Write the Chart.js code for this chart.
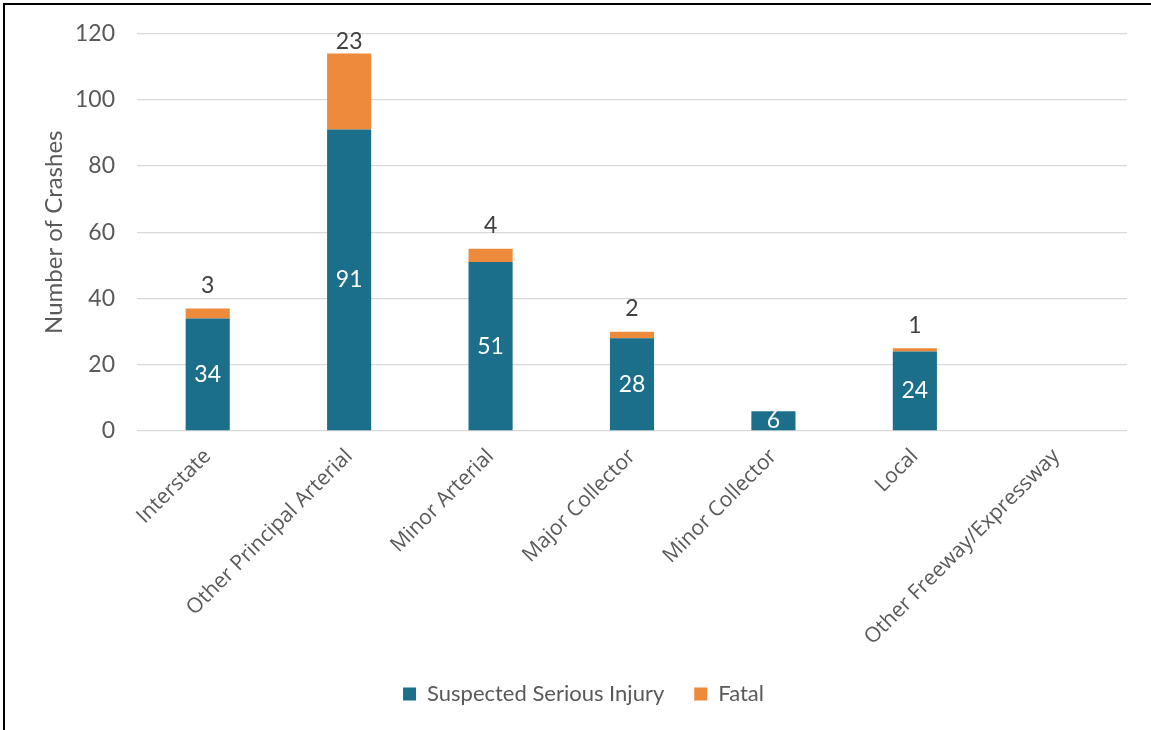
<!DOCTYPE html>
<html><head><meta charset="utf-8">
<script src="https://cdn.jsdelivr.net/npm/chart.js@4/dist/chart.umd.min.js"></script>
<style>
html,body{margin:0;padding:0;background:#fff;overflow:hidden;width:1151px;height:730px}
#frame{position:absolute;left:3px;top:3px;width:2000px;height:2000px;border-top:2px solid #000;border-left:2px solid #000;box-sizing:border-box}
canvas{position:absolute;left:0;top:0}
</style></head><body>
<div id="frame"></div>
<canvas id="c" width="1151" height="730"></canvas>
<script>
const categories = ["Interstate","Other Principal Arterial","Minor Arterial","Major Collector","Minor Collector","Local","Other Freeway/Expressway"];
const seriousInjury = [34,91,51,28,6,24,0];
const fatal = [3,23,4,2,0,1,0];
const yMin = 0, yMax = 120, yStep = 20;
const seriesNames = ["Suspected Serious Injury","Fatal"];
const yTitle = "Number of Crashes";

const labelPlugin = {
  id:'barLabels',
  afterDatasetsDraw(chart){
    const ctx = chart.ctx;
    ctx.save();
    ctx.font = '23px Lato';
    ctx.textAlign = 'center';
    ctx.textBaseline = 'middle';
    chart.data.datasets.forEach((ds,i)=>{
      const meta = chart.getDatasetMeta(i);
      meta.data.forEach((el,j)=>{
        const v = ds.data[j];
        if(!v) return;
        if(i===0){ ctx.fillStyle='#ffffff'; ctx.fillText(String(v), el.x, (el.y+el.base)/2); }
        else {
          ctx.fillStyle='#404040';
          const y = Math.max(el.y-23, chart.chartArea.top+8);
          ctx.fillText(String(v), el.x, y);
        }
      });
    });
    ctx.restore();
  }
};

new Chart(document.getElementById('c'), {
  type:'bar',
  data:{
    labels:categories,
    datasets:[
      {label:seriesNames[0], data:seriousInjury, backgroundColor:'#1B6F8B', borderColor:'#1B6F8B', borderWidth:0, categoryPercentage:0.8, barPercentage:0.39},
      {label:seriesNames[1], data:fatal, backgroundColor:'#EE8A3B', borderColor:'#EE8A3B', borderWidth:0, categoryPercentage:0.8, barPercentage:0.39}
    ]
  },
  options:{
    responsive:false,
    animation:false,
    devicePixelRatio:1,
    layout:{padding:{left:40, top:10, right:24, bottom:15}},
    plugins:{
      legend:{position:'bottom', labels:{font:{family:'Lato', size:22}, color:'#595959', boxWidth:13, boxHeight:13, padding:30}},
      tooltip:{enabled:false}
    },
    scales:{
      x:{stacked:true, grid:{display:false}, border:{display:false},
         ticks:{font:{family:'Open Sans', size:21}, color:'#595959', minRotation:45, maxRotation:45, padding:5, autoSkip:false},
         afterFit(s){ s.height = 222; }},
      y:{stacked:true, min:yMin, max:yMax,
         ticks:{stepSize:yStep, font:{family:'Lato', size:23, lineHeight:1.0}, color:'#595959', padding:22},
         grid:{color:'#D9D9D9', lineWidth:1.3, drawTicks:false},
         border:{display:false},
         title:{display:true, text:yTitle, font:{family:'Lato', size:24}, color:'#595959', padding:0},
         afterFit(s){ s.width = 97; }}
    }
  },
  plugins:[labelPlugin]
});
</script>
</body></html>
